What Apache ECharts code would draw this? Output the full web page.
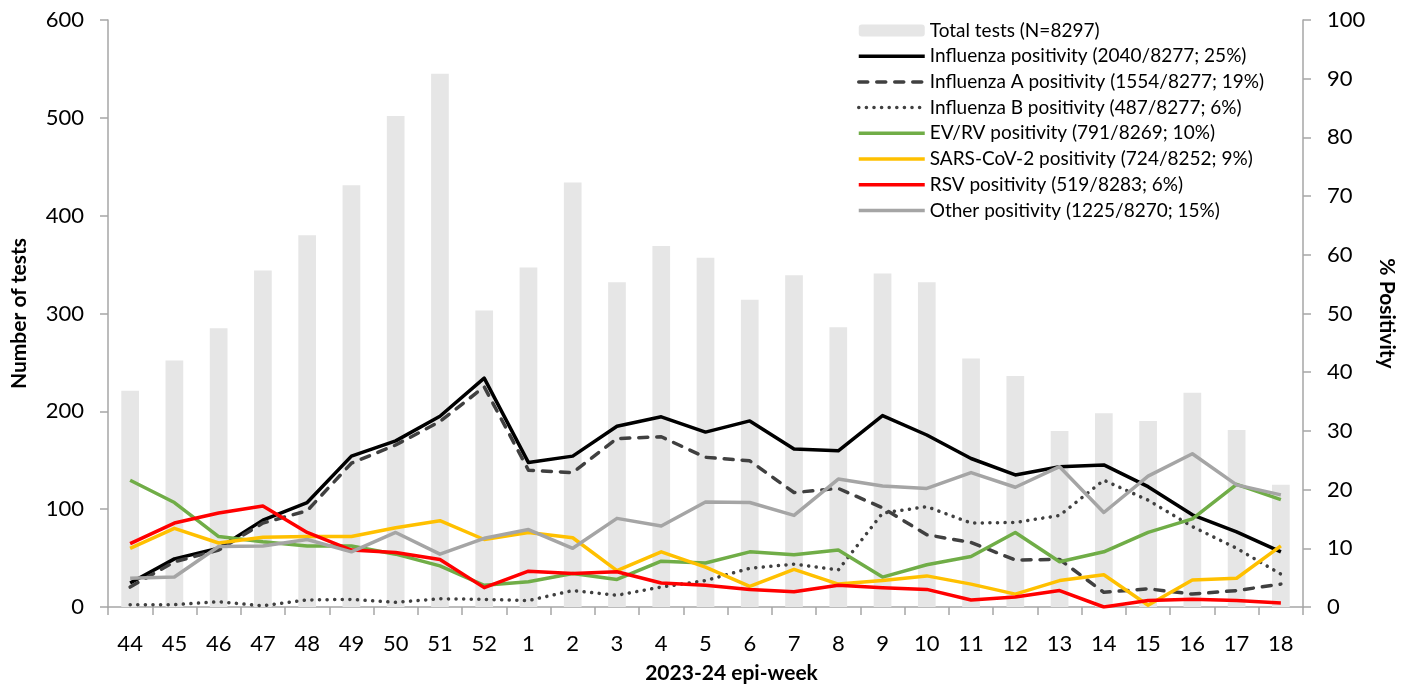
<!DOCTYPE html>
<html>
<head>
<meta charset="utf-8">
<script src="https://cdn.jsdelivr.net/npm/echarts@6/dist/echarts.min.js"></script>
<style>
html,body{margin:0;padding:0;background:#fff;}
#c{width:1406px;height:686px;}
</style>
</head>
<body>
<div id="c"></div>
<script>
const weeks = ['44','45','46','47','48','49','50','51','52','1','2','3','4','5','6','7','8','9','10','11','12','13','14','15','16','17','18'];
const totalTests = [221,252,285,344,380,431,502,545,303,347,434,332,369,357,314,339,286,341,332,254,236,180,198,190,219,181,125];
const influenza = [4.1,8.2,10.0,14.8,17.8,25.7,28.3,32.5,39.0,24.6,25.7,30.8,32.4,29.8,31.7,26.9,26.6,32.6,29.3,25.3,22.5,23.9,24.2,20.5,15.7,12.8,9.4];
const influenzaA = [3.4,7.7,9.7,14.3,16.4,24.5,27.6,31.6,37.5,23.3,22.9,28.7,29.0,25.5,24.9,19.5,20.2,16.9,12.3,11.0,8.0,8.1,2.5,3.1,2.2,2.8,3.9];
const influenzaB = [0.4,0.4,0.9,0.2,1.2,1.3,0.8,1.4,1.3,1.1,2.8,2.0,3.4,4.5,6.6,7.3,6.3,16.0,17.1,14.3,14.4,15.6,21.6,18.2,13.7,10.0,5.6];
const evrv = [21.6,17.8,12.0,11.1,10.4,10.4,9.0,7.0,3.7,4.3,5.7,4.7,7.8,7.5,9.4,8.9,9.7,5.1,7.2,8.6,12.7,7.7,9.4,12.7,15.0,20.9,18.3];
const sars = [10.0,13.4,10.9,11.9,12.0,12.0,13.5,14.7,11.5,12.7,11.8,6.2,9.4,6.8,3.5,6.4,3.9,4.5,5.3,3.9,2.2,4.5,5.5,0.3,4.6,4.9,10.4];
const rsv = [10.8,14.3,16.0,17.2,12.7,9.7,9.3,8.1,3.3,6.1,5.7,6.0,4.1,3.7,3.0,2.6,3.7,3.3,3.0,1.2,1.7,2.8,0.0,1.1,1.3,1.1,0.7];
const other = [4.9,5.1,10.3,10.4,11.5,9.4,12.7,9.0,11.7,13.2,10.0,15.1,13.8,17.9,17.8,15.6,21.8,20.6,20.2,22.9,20.4,23.9,16.1,22.3,26.1,20.8,19.1];
const leftTicks = [0,100,200,300,400,500,600];
const rightTicks = [0,10,20,30,40,50,60,70,80,90,100];
const names = ['Total tests (N=8297)','Influenza positivity (2040/8277; 25%)','Influenza A positivity (1554/8277; 19%)','Influenza B positivity (487/8277; 6%)','EV/RV positivity (791/8269; 10%)','SARS-CoV-2 positivity (724/8252; 9%)','RSV positivity (519/8283; 6%)','Other positivity (1225/8270; 15%)'];

const FONT = 'Lato, "Open Sans", sans-serif';
const axisGray = '#a6a6a6';
const chart = echarts.init(document.getElementById('c'), null, {renderer:'canvas'});

function lineSeries(name, data, color, type, cap) {
  return {
    name, type:'line', yAxisIndex:1, data, symbol:'none', smooth:false,
    lineStyle:{color, width:3.5, type:type||'solid', cap:cap||'butt', join:'round'},
    itemStyle:{color}, z:3
  };
}

const legendData = names.map((n, i) => i === 0 ? {name:n} : {name:n, itemStyle:{opacity:0}});

chart.setOption({
  animation:false,
  textStyle:{fontFamily:FONT},
  grid:{left:108, right:103, top:20, bottom:79, containLabel:false, outerBoundsMode:'none'},
  legend:{
    orient:'vertical', left:852, top:16, itemWidth:66, itemHeight:12, itemGap:6.7,
    lineStyle:{width:3.5},
    textStyle:{fontFamily:FONT, fontSize:19, color:'#000'},
    data:legendData
  },
  xAxis:{
    type:'category', data:weeks, boundaryGap:true,
    axisLine:{lineStyle:{color:axisGray, width:1.5}},
    axisTick:{show:true, alignWithLabel:false, length:8, lineStyle:{color:axisGray, width:1.5}},
    axisLabel:{fontFamily:FONT, fontSize:22, color:'#000', margin:26, interval:0},
    name:'2023-24 epi-week', nameLocation:'middle', nameGap:56,
    nameTextStyle:{fontFamily:FONT, fontSize:21, fontWeight:'bold', color:'#000', padding:[0,0,0,52]}
  },
  yAxis:[{
    type:'value', min:leftTicks[0], max:leftTicks[leftTicks.length-1], interval:100,
    axisLine:{show:true, lineStyle:{color:axisGray, width:1.5}},
    axisTick:{show:true, length:8, lineStyle:{color:axisGray, width:1.5}},
    splitLine:{show:false},
    axisLabel:{fontFamily:FONT, fontSize:22, color:'#000', margin:24},
    name:'Number of tests', nameLocation:'middle', nameGap:78, nameRotate:90,
    nameTextStyle:{fontFamily:FONT, fontSize:21, fontWeight:'bold', color:'#000'}
  },{
    type:'value', min:rightTicks[0], max:rightTicks[rightTicks.length-1], interval:10, position:'right',
    axisLine:{show:true, lineStyle:{color:axisGray, width:1.5}},
    axisTick:{show:true, length:8, lineStyle:{color:axisGray, width:1.5}},
    splitLine:{show:false},
    axisLabel:{fontFamily:FONT, fontSize:22, color:'#000', margin:24},
    name:'% Positivity', nameLocation:'middle', nameGap:64, nameRotate:-90,
    nameTextStyle:{fontFamily:FONT, fontSize:21, fontWeight:'bold', color:'#000'}
  }],
  series:[
    {name:names[0], type:'bar', yAxisIndex:0, data:totalTests, barWidth:'40%', itemStyle:{color:'#e6e6e6'}, z:1},
    lineSeries(names[1], influenza, '#000000'),
    lineSeries(names[2], influenzaA, '#404040', [9,9], 'round'),
    lineSeries(names[3], influenzaB, '#404040', [0.1,7.5], 'round'),
    lineSeries(names[4], evrv, '#70ad47'),
    lineSeries(names[5], sars, '#ffc000'),
    lineSeries(names[6], rsv, '#ff0000'),
    lineSeries(names[7], other, '#a5a5a5')
  ]
});
</script>
</body>
</html>
